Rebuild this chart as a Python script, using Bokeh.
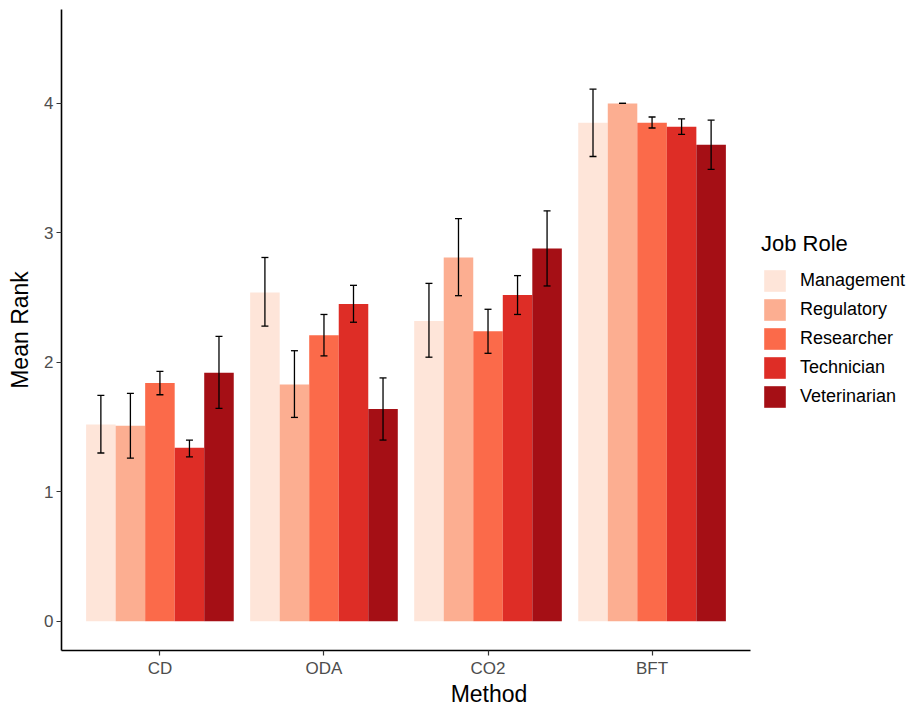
from bokeh.plotting import figure
from bokeh.models import ColumnDataSource, Legend, LegendItem, Whisker, TeeHead, FixedTicker, Range1d
from bokeh.transform import dodge
from bokeh.embed import file_html
from bokeh.resources import INLINE

methods = ["CD", "ODA", "CO2", "BFT"]
roles = ["Management", "Regulatory", "Researcher", "Technician", "Veterinarian"]
colors = ["#FEE5D9", "#FCAE91", "#FB6A4A", "#DE2D26", "#A50F15"]

management_mean = [1.52, 2.54, 2.32, 3.85]
management_lower = [1.30, 2.28, 2.04, 3.59]
management_upper = [1.745, 2.81, 2.61, 4.11]

regulatory_mean = [1.51, 1.83, 2.81, 4.00]
regulatory_lower = [1.26, 1.575, 2.515, 4.00]
regulatory_upper = [1.76, 2.09, 3.11, 4.00]

researcher_mean = [1.84, 2.21, 2.24, 3.85]
researcher_lower = [1.75, 2.05, 2.07, 3.81]
researcher_upper = [1.93, 2.37, 2.41, 3.895]

technician_mean = [1.34, 2.45, 2.52, 3.82]
technician_lower = [1.27, 2.31, 2.37, 3.76]
technician_upper = [1.40, 2.595, 2.67, 3.88]

veterinarian_mean = [1.92, 1.64, 2.88, 3.68]
veterinarian_lower = [1.645, 1.40, 2.59, 3.49]
veterinarian_upper = [2.20, 1.88, 3.17, 3.87]

series = [
    (management_mean, management_lower, management_upper),
    (regulatory_mean, regulatory_lower, regulatory_upper),
    (researcher_mean, researcher_lower, researcher_upper),
    (technician_mean, technician_lower, technician_upper),
    (veterinarian_mean, veterinarian_lower, veterinarian_upper),
]

# discrete positions of the method categories (1..n, as in a discrete scale)
method_pos = [i + 1 for i in range(len(methods))]

FONT = "Liberation Sans"

p = figure(
    frame_width=855, frame_height=641,
    x_range=Range1d(0.4, 5.612),
    y_range=Range1d(-0.225, 4.725),
    output_backend="svg", toolbar_location=None,
    min_border_left=61, min_border_right=0, min_border_top=9, min_border_bottom=46,
)

bar_w = 0.9 / len(roles)
items = []
for i, (role, col, (m, lo, up)) in enumerate(zip(roles, colors, series)):
    off = (i - (len(roles) - 1) / 2) * bar_w
    src = ColumnDataSource(dict(pos=method_pos, method=methods, mean=m, lower=lo, upper=up))
    r = p.vbar(x=dodge("pos", off), top="mean", bottom=0, width=bar_w,
               source=src, fill_color=col, line_color=None)
    items.append(LegendItem(label=role, renderers=[r]))
    w = Whisker(base=dodge("pos", off), upper="upper", lower="lower", source=src,
                line_color="black", line_width=1.3, level="overlay",
                upper_head=TeeHead(size=7, line_color="black", line_width=1.3),
                lower_head=TeeHead(size=7, line_color="black", line_width=1.3))
    p.add_layout(w)

legend = Legend(items=items, location=(700, 240), title="Job Role",
                glyph_width=27, glyph_height=27, spacing=2, label_standoff=12,
                label_text_font=FONT, label_text_font_size="18px", label_text_color="#000000",
                title_text_font=FONT, title_text_font_size="22px", title_text_font_style="normal",
                title_text_color="#000000",
                title_standoff=10, border_line_color=None, background_fill_alpha=0,
                margin=0, padding=10)
p.add_layout(legend, "center")

p.xgrid.visible = False
p.ygrid.visible = False
p.outline_line_color = None

p.xaxis.ticker = FixedTicker(ticks=method_pos)
p.xaxis.major_label_overrides = {pos: name for pos, name in zip(method_pos, methods)}
p.xaxis.bounds = (0.4, 4.6)
p.yaxis.ticker = FixedTicker(ticks=[0, 1, 2, 3, 4])
for ax in (p.xaxis[0], p.yaxis[0]):
    ax.axis_line_color = "black"
    ax.axis_line_width = 1.6
    ax.major_tick_line_color = "#333333"
    ax.major_tick_line_width = 1.2
    ax.major_tick_out = 5
    ax.major_tick_in = 0
    ax.minor_tick_line_color = None
    ax.major_label_text_font = FONT
    ax.major_label_text_font_size = "17px"
    ax.major_label_text_color = "#4D4D4D"
    ax.axis_label_text_font = FONT
    ax.axis_label_text_font_size = "23px"
    ax.axis_label_text_font_style = "normal"
    ax.axis_label_text_color = "#000000"
    ax.major_label_standoff = 3
p.xaxis.axis_label = "Method"
p.yaxis.axis_label = "Mean Rank"
p.xaxis.axis_label_standoff = 0
p.yaxis.axis_label_standoff = 8

open("out.html", "w").write(file_html(p, INLINE))
